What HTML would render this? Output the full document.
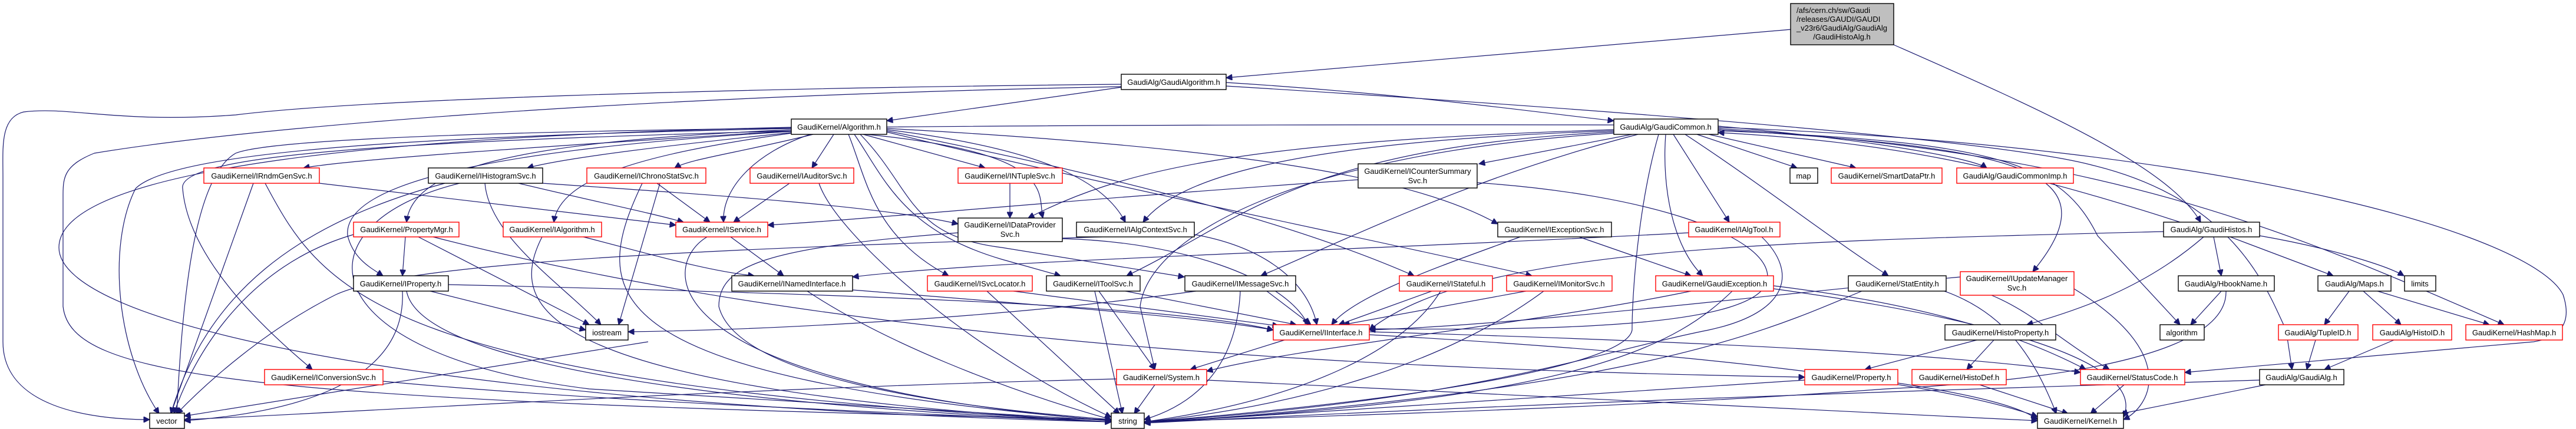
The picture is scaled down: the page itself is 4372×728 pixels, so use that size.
<!DOCTYPE html>
<html><head><meta charset="utf-8"><style>
html,body{margin:0;padding:0;background:#fff;}
svg{display:block;}
text{font-family:"Liberation Sans",sans-serif;font-size:13px;fill:#000;}
.e{fill:none;stroke:#191970;stroke-width:1.2;marker-end:url(#a);}
.b{fill:#fff;stroke:#000;stroke-width:1.4;}
.r{fill:#fff;stroke:#ff0000;stroke-width:1.4;}
</style></head><body>
<svg width="4372" height="728" viewBox="0 0 4372 728" xmlns="http://www.w3.org/2000/svg">
<defs><marker id="a" viewBox="0 0 10 10" refX="10" refY="5" markerWidth="12" markerHeight="10" markerUnits="userSpaceOnUse" orient="auto"><path d="M0 0 L10 5 L0 10 z" fill="#191970" stroke="#191970"/></marker></defs>
<g>
<path class="e" d="M3039 50 L2081 132"/>
<path class="e" d="M3214 76 C3450 180 3680 280 3735 377"/>
<path class="e" d="M1903 148 L1505 205"/>
<path class="e" d="M2081 140 C2400 160 2600 190 2739 205"/>
<path class="e" d="M1903 143 C1200 150 600 170 400 195 C200 210 120 180 40 190 C0 200 5 250 5 300 L5 580 C5 690 150 712 254 712"/>
<path class="e" d="M1903 147 C1000 165 400 220 160 260 C110 280 107 300 107 330 L107 520 C120 640 400 680 1886 712"/>
<path class="e" d="M2081 146 C2800 190 3400 240 3550 280 C3800 340 3850 500 3880 560 L3890 627"/>
<path class="e" d="M1343 222 C900 250 600 270 515 285"/>
<path class="e" d="M1343 225 C1100 250 950 270 895 285"/>
<path class="e" d="M1380 228 C1250 260 1170 270 1145 285"/>
<path class="e" d="M1415 228 L1378 285"/>
<path class="e" d="M1465 228 L1672 285"/>
<path class="e" d="M1375 228 C1280 260 1225 320 1228 377"/>
<path class="e" d="M1343 220 C900 240 700 280 690 377"/>
<path class="e" d="M1343 226 C1100 260 950 300 940 377"/>
<path class="e" d="M1343 223 C900 250 580 300 590 400 C600 440 630 455 650 468"/>
<path class="e" d="M1343 222 C700 240 300 260 310 320 C320 440 450 560 530 627"/>
<path class="e" d="M1470 228 C1800 260 1760 330 1770 370"/>
<path class="e" d="M1505 220 C1750 250 1870 300 1910 377"/>
<path class="e" d="M1440 228 C1470 300 1480 400 1610 468"/>
<path class="e" d="M1450 228 C1500 300 1530 390 1700 440 L1800 468"/>
<path class="e" d="M1460 228 C1550 320 1540 400 1700 420 L2010 470"/>
<path class="e" d="M1505 222 C1900 300 2200 380 2400 468"/>
<path class="e" d="M1505 224 C1900 320 2300 400 2600 468"/>
<path class="e" d="M1505 218 C2100 250 2400 300 2542 380"/>
<path class="e" d="M1343 218 C800 230 300 250 230 320 C180 420 200 600 270 702"/>
<path class="e" d="M1343 216 C700 230 100 280 100 420 C100 560 800 690 1886 716"/>
<path class="e" d="M2880 228 L3050 285"/>
<path class="e" d="M2900 228 L3150 285"/>
<path class="e" d="M2916 214 C3200 240 3350 270 3372 285"/>
<path class="e" d="M2770 228 L2510 278"/>
<path class="e" d="M2840 228 L2935 377"/>
<path class="e" d="M2827 228 C2820 320 2840 420 2890 468"/>
<path class="e" d="M2860 228 C3000 320 3100 400 3205 468"/>
<path class="e" d="M2916 220 C3400 250 3600 280 3450 461"/>
<path class="e" d="M2916 222 C3400 240 3500 280 3560 400 L3700 551"/>
<path class="e" d="M2916 218 C3600 260 3900 400 4250 551"/>
<path class="e" d="M2916 216 C3800 250 4300 400 4350 500 C4370 560 4330 575 4300 580 L3708 632"/>
<path class="e" d="M2739 220 C2100 240 1900 290 1745 370"/>
<path class="e" d="M2739 222 C2200 240 2000 300 1940 377"/>
<path class="e" d="M2739 224 C2200 250 2100 380 1912 468"/>
<path class="e" d="M2780 228 C2500 300 2300 400 2140 468"/>
<path class="e" d="M2815 228 C2780 350 2770 500 2770 560 C2760 620 2400 680 1942 716"/>
<path class="e" d="M2739 212 C1500 210 500 220 400 260 C330 300 310 500 300 702"/>
<path class="e" d="M2739 226 C2200 260 1950 400 1935 520 L1960 627"/>
<path class="e" d="M2305 305 C1800 340 1500 370 1303 382"/>
<path class="e" d="M2507 310 C2800 330 3000 400 3000 470 C3000 560 2600 560 2324 558"/>
<path class="e" d="M3700 377 C3400 280 3200 240 2916 225"/>
<path class="e" d="M3740 402 C3650 480 3550 520 3440 551"/>
<path class="e" d="M3757 402 L3770 468"/>
<path class="e" d="M3785 402 L3960 468"/>
<path class="e" d="M3835 400 C3950 420 4050 450 4080 468"/>
<path class="e" d="M3672 393 C3000 410 2500 420 2324 560"/>
<path class="e" d="M3770 494 L3718 551"/>
<path class="e" d="M3778 494 C3780 580 3600 640 3200 660 C2800 690 2300 705 1942 716"/>
<path class="e" d="M3987 494 L3945 551"/>
<path class="e" d="M4011 494 L4075 551"/>
<path class="e" d="M4035 494 L4225 551"/>
<path class="e" d="M3930 577 L3915 627"/>
<path class="e" d="M4063 577 L3945 627"/>
<path class="e" d="M3845 653 L3600 702"/>
<path class="e" d="M3835 645 C3000 670 2500 690 1942 718"/>
<path class="e" d="M3605 653 L3548 702"/>
<path class="e" d="M3384 577 L3338 627"/>
<path class="e" d="M3355 577 L3165 627"/>
<path class="e" d="M3360 653 L3510 702"/>
<path class="e" d="M3221 650 C3350 670 3430 690 3458 712"/>
<path class="e" d="M3063 645 L1942 718"/>
<path class="e" d="M3160 494 C3000 560 2800 660 1942 718"/>
<path class="e" d="M3300 494 C3400 530 3450 600 3490 702"/>
<path class="e" d="M3327 470 C3000 500 2600 550 2324 560"/>
<path class="e" d="M3380 501 C3450 530 3500 580 3580 627"/>
<path class="e" d="M3520 490 C3700 600 3650 690 3604 712"/>
<path class="e" d="M2940 494 C2850 580 2700 680 1942 716"/>
<path class="e" d="M3010 485 C3300 520 3450 580 3540 627"/>
<path class="e" d="M3010 490 C3300 530 3650 600 3604 708"/>
<path class="e" d="M2870 494 C2600 550 2200 590 2048 630"/>
<path class="e" d="M2866 395 C2200 430 1700 440 1447 470"/>
<path class="e" d="M2990 402 C3050 460 3040 530 2900 560 C2700 600 2500 680 1942 716"/>
<path class="e" d="M2580 402 C2450 450 2300 500 2260 551"/>
<path class="e" d="M2680 402 L2870 468"/>
<path class="e" d="M2430 494 L2272 551"/>
<path class="e" d="M2445 494 C2380 600 2200 680 1942 716"/>
<path class="e" d="M2590 494 L2280 551"/>
<path class="e" d="M2620 494 C2450 620 2200 690 1942 716"/>
<path class="e" d="M2150 494 L2225 551"/>
<path class="e" d="M2105 494 C2100 600 2050 680 1942 712"/>
<path class="e" d="M2030 494 C1700 540 1300 560 1066 563"/>
<path class="e" d="M1910 494 L2200 551"/>
<path class="e" d="M1858 494 L1905 702"/>
<path class="e" d="M1865 494 L1960 627"/>
<path class="e" d="M1720 494 L2170 553"/>
<path class="e" d="M1675 494 L1900 702"/>
<path class="e" d="M1447 492 C1800 520 2050 540 2161 560"/>
<path class="e" d="M1370 494 C1500 580 1700 660 1886 712"/>
<path class="e" d="M1240 402 L1330 468"/>
<path class="e" d="M1200 402 C1120 450 1100 650 1886 714"/>
<path class="e" d="M1803 405 C2000 410 2180 470 2220 551"/>
<path class="e" d="M1626 395 C1300 420 1220 450 1220 520 C1250 640 1600 690 1886 712"/>
<path class="e" d="M1870 402 C1300 420 700 440 570 500 C450 560 350 650 300 702"/>
<path class="e" d="M2027 398 C2150 420 2220 480 2235 551"/>
<path class="e" d="M1714 311 L1714 370"/>
<path class="e" d="M1340 311 L1245 377"/>
<path class="e" d="M1390 311 C1420 400 1650 600 1886 708"/>
<path class="e" d="M1115 311 L1205 377"/>
<path class="e" d="M1120 311 L1050 551"/>
<path class="e" d="M1090 311 C1000 500 1000 640 1886 714"/>
<path class="e" d="M880 311 C1000 340 1100 360 1160 377"/>
<path class="e" d="M921 311 C1200 330 1500 350 1626 380"/>
<path class="e" d="M823 311 C830 400 950 480 1020 551"/>
<path class="e" d="M755 311 C500 380 350 500 290 702"/>
<path class="e" d="M780 311 C500 380 520 600 1000 660 L1886 714"/>
<path class="e" d="M542 311 L1147 382"/>
<path class="e" d="M430 311 L290 702"/>
<path class="e" d="M450 311 C550 500 650 650 1886 716"/>
<path class="e" d="M688 402 L683 468"/>
<path class="e" d="M710 402 L1000 551"/>
<path class="e" d="M600 398 C420 450 330 600 295 702"/>
<path class="e" d="M735 402 C1500 600 2500 630 3063 640"/>
<path class="e" d="M990 402 C1100 430 1200 460 1280 468"/>
<path class="e" d="M920 402 C860 520 900 660 1886 716"/>
<path class="e" d="M730 494 L994 560"/>
<path class="e" d="M690 494 C720 650 1500 700 1886 716"/>
<path class="e" d="M683 494 C690 650 500 700 313 714"/>
<path class="e" d="M761 483 C1500 500 2000 520 2161 560"/>
<path class="e" d="M650 647 C1000 680 1500 700 1886 716"/>
<path class="e" d="M1960 653 L1925 702"/>
<path class="e" d="M1895 643 C1200 660 600 700 313 712"/>
<path class="e" d="M2048 645 L3458 714"/>
<path class="e" d="M2180 577 L2020 627"/>
<path class="e" d="M2324 563 C2900 580 3300 600 3531 632"/>
<path class="e" d="M2324 568 C2900 600 3300 650 3458 707"/>
<path class="e" d="M1100 580 L313 706"/>
</g>
<g>
<rect x="3039" y="6" width="175" height="70" fill="#bfbfbf" stroke="#000" stroke-width="1.4"/>
<text x="3049" y="22">/afs/cern.ch/sw/Gaudi</text>
<text x="3049" y="37">/releases/GAUDI/GAUDI</text>
<text x="3049" y="52">_v23r6/GaudiAlg/GaudiAlg</text>
<text x="3126" y="67" text-anchor="middle">/GaudiHistoAlg.h</text>
</g>
<g text-anchor="middle">
<rect class="b" x="1903" y="126" width="178" height="26"/><text x="1992" y="144">GaudiAlg/GaudiAlgorithm.h</text>
<rect class="b" x="1343" y="202" width="162" height="26"/><text x="1424" y="220">GaudiKernel/Algorithm.h</text>
<rect class="b" x="2739" y="202" width="177" height="26"/><text x="2827" y="220">GaudiAlg/GaudiCommon.h</text>

<rect class="r" x="346" y="285" width="196" height="26"/><text x="444" y="303">GaudiKernel/IRndmGenSvc.h</text>
<rect class="b" x="727" y="285" width="194" height="26"/><text x="824" y="303">GaudiKernel/IHistogramSvc.h</text>
<rect class="r" x="996" y="285" width="202" height="26"/><text x="1097" y="303">GaudiKernel/IChronoStatSvc.h</text>
<rect class="r" x="1273" y="285" width="176" height="26"/><text x="1361" y="303">GaudiKernel/IAuditorSvc.h</text>
<rect class="r" x="1626" y="285" width="177" height="26"/><text x="1714" y="303">GaudiKernel/INTupleSvc.h</text>
<rect class="b" x="2305" y="278" width="202" height="41"/><text x="2406" y="295">GaudiKernel/ICounterSummary</text><text x="2406" y="311">Svc.h</text>
<rect class="b" x="3038" y="285" width="47" height="26"/><text x="3061" y="303">map</text>
<rect class="r" x="3108" y="285" width="188" height="26"/><text x="3202" y="303">GaudiKernel/SmartDataPtr.h</text>
<rect class="r" x="3321" y="285" width="198" height="26"/><text x="3420" y="303">GaudiAlg/GaudiCommonImp.h</text>

<rect class="r" x="600" y="377" width="179" height="25"/><text x="690" y="394">GaudiKernel/PropertyMgr.h</text>
<rect class="r" x="854" y="377" width="167" height="25"/><text x="937" y="394">GaudiKernel/IAlgorithm.h</text>
<rect class="r" x="1147" y="377" width="156" height="25"/><text x="1225" y="394">GaudiKernel/IService.h</text>
<rect class="b" x="1626" y="370" width="177" height="40"/><text x="1714" y="386">GaudiKernel/IDataProvider</text><text x="1714" y="402">Svc.h</text>
<rect class="b" x="1827" y="377" width="200" height="25"/><text x="1927" y="394">GaudiKernel/IAlgContextSvc.h</text>
<rect class="b" x="2542" y="377" width="193" height="25"/><text x="2638" y="394">GaudiKernel/IExceptionSvc.h</text>
<rect class="r" x="2866" y="377" width="155" height="25"/><text x="2943" y="394">GaudiKernel/IAlgTool.h</text>
<rect class="b" x="3672" y="377" width="163" height="25"/><text x="3753" y="394">GaudiAlg/GaudiHistos.h</text>

<rect class="b" x="600" y="468" width="161" height="26"/><text x="680" y="486">GaudiKernel/IProperty.h</text>
<rect class="b" x="1242" y="468" width="205" height="26"/><text x="1344" y="486">GaudiKernel/INamedInterface.h</text>
<rect class="r" x="1574" y="468" width="178" height="26"/><text x="1663" y="486">GaudiKernel/ISvcLocator.h</text>
<rect class="b" x="1776" y="468" width="159" height="26"/><text x="1855" y="486">GaudiKernel/IToolSvc.h</text>
<rect class="b" x="2011" y="468" width="188" height="26"/><text x="2105" y="486">GaudiKernel/IMessageSvc.h</text>
<rect class="r" x="2375" y="468" width="158" height="26"/><text x="2454" y="486">GaudiKernel/IStateful.h</text>
<rect class="r" x="2557" y="468" width="179" height="26"/><text x="2646" y="486">GaudiKernel/IMonitorSvc.h</text>
<rect class="r" x="2810" y="468" width="200" height="26"/><text x="2910" y="486">GaudiKernel/GaudiException.h</text>
<rect class="b" x="3137" y="468" width="166" height="26"/><text x="3220" y="486">GaudiKernel/StatEntity.h</text>
<rect class="r" x="3327" y="461" width="193" height="40"/><text x="3423" y="477">GaudiKernel/IUpdateManager</text><text x="3423" y="493">Svc.h</text>
<rect class="b" x="3697" y="468" width="163" height="26"/><text x="3778" y="486">GaudiAlg/HbookName.h</text>
<rect class="b" x="3934" y="468" width="124" height="26"/><text x="3996" y="486">GaudiAlg/Maps.h</text>
<rect class="b" x="4081" y="468" width="53" height="26"/><text x="4107" y="486">limits</text>

<rect class="b" x="994" y="551" width="72" height="26"/><text x="1030" y="569">iostream</text>
<rect class="r" x="2161" y="551" width="163" height="26"/><text x="2242" y="569">GaudiKernel/IInterface.h</text>
<rect class="b" x="3301" y="551" width="188" height="26"/><text x="3395" y="569">GaudiKernel/HistoProperty.h</text>
<rect class="b" x="3666" y="551" width="75" height="26"/><text x="3703" y="569">algorithm</text>
<rect class="r" x="3867" y="551" width="135" height="26"/><text x="3934" y="569">GaudiAlg/TupleID.h</text>
<rect class="r" x="4027" y="551" width="134" height="26"/><text x="4094" y="569">GaudiAlg/HistoID.h</text>
<rect class="r" x="4185" y="551" width="164" height="26"/><text x="4267" y="569">GaudiKernel/HashMap.h</text>

<rect class="r" x="449" y="627" width="201" height="26"/><text x="549" y="645">GaudiKernel/IConversionSvc.h</text>
<rect class="r" x="1895" y="627" width="153" height="26"/><text x="1971" y="645">GaudiKernel/System.h</text>
<rect class="r" x="3063" y="627" width="158" height="26"/><text x="3142" y="645">GaudiKernel/Property.h</text>
<rect class="r" x="3245" y="627" width="160" height="26"/><text x="3325" y="645">GaudiKernel/HistoDef.h</text>
<rect class="r" x="3531" y="627" width="177" height="26"/><text x="3619" y="645">GaudiKernel/StatusCode.h</text>
<rect class="b" x="3835" y="627" width="143" height="26"/><text x="3906" y="645">GaudiAlg/GaudiAlg.h</text>

<rect class="b" x="254" y="701" width="59" height="26"/><text x="283" y="719">vector</text>
<rect class="b" x="1886" y="701" width="56" height="26"/><text x="1914" y="719">string</text>
<rect class="b" x="3458" y="701" width="146" height="26"/><text x="3531" y="719">GaudiKernel/Kernel.h</text>
</g>
</svg>
</body></html>
